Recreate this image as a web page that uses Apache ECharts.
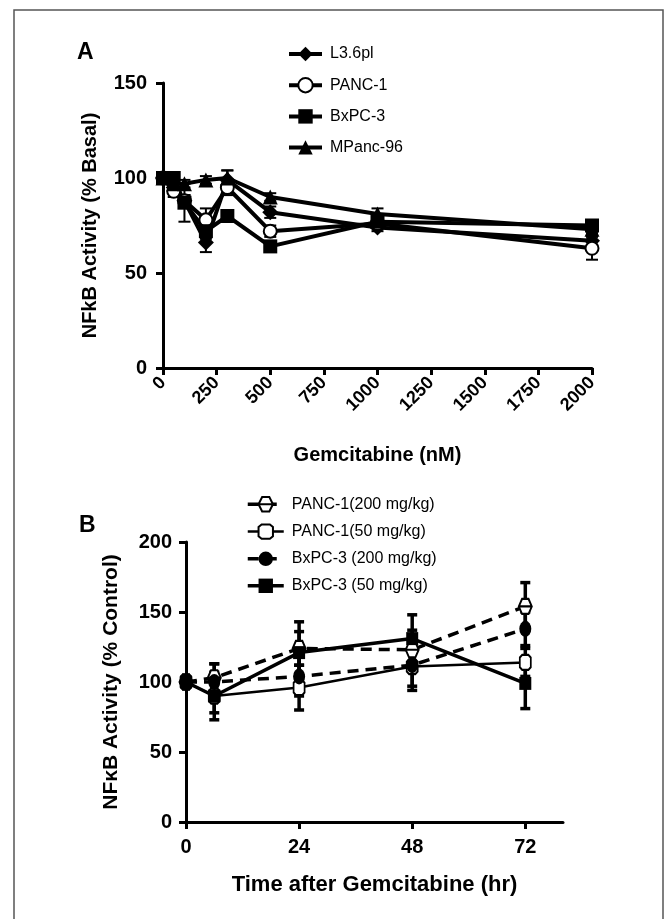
<!DOCTYPE html>
<html>
<head>
<meta charset="utf-8">
<script src="https://cdn.jsdelivr.net/npm/echarts@6/dist/echarts.min.js"></script>
<style>
  html, body { margin: 0; padding: 0; background: #fff; }
  #main { width: 668px; height: 919px; }
</style>
</head>
<body>
<div id="main"></div>
<script>
// panel A: dose response (% basal)
var doseNM = [0, 50, 100, 200, 300, 500, 1000, 2000];
var l36pl = [100, 95, 88, 66, 99, 82, 74, 67];
var l36plErr = [0, 2, 3, 5, 5, 3, 2, 3];
var panc1 = [100, 93, 88, 78, 95, 72, 76, 63];
var panc1Err = [0, 3, 3, 6, 4, 3, 2, 6];
var bxpc3 = [100, 100, 87, 72, 80, 64, 77, 75];
var bxpc3Err = [0, 3, 10, 4, 3, 2, 2, 2];
var mpanc96 = [100, 97, 97, 99, 100, 90, 81, 73];
var mpanc96Err = [0, 2, 2, 2, 4, 2, 3, 2];
var doseTicks = [0, 250, 500, 750, 1000, 1250, 1500, 1750, 2000];

// panel B: time course (% control)
var timeHr = [0, 6, 24, 48, 72];
var timeTicks = [0, 24, 48, 72];
var panc1_200 = [100, 103, 124, 123, 154];
var panc1_200Err = [0, 10, 12, 14, 17];
var panc1_50 = [100, 90, 96, 111, 114];
var panc1_50Err = [0, 12, 16, 14, 10];
var bxpc3_200 = [100, 100, 104, 112, 138];
var bxpc3_200Err = [0, 13, 14, 18, 12];
var bxpc3_50 = [100, 90, 121, 131, 99];
var bxpc3_50Err = [0, 17, 22, 17, 18];

var FONT = 'Liberation Sans, Arial, sans-serif';
var hexSym = 'path://M-2,0 L-1,-1.73 L1,-1.73 L2,0 L1,1.73 L-1,1.73 Z M-2,0 L2,0';
var octSym = 'path://M-0.8,-2 L0.8,-2 L1.4,-1.3 L1.4,1.3 L0.8,2 L-0.8,2 L-1.4,1.3 L-1.4,-1.3 Z';

function pairs(xs, ys) {
  return xs.map(function (x, i) { return [x, ys[i]]; });
}

// vertical error bars with caps, drawn through the axis scales
function errBars(name, xs, ys, es, axisIdx, cap, lw) {
  var data = [];
  xs.forEach(function (x, i) {
    if (es[i] > 0) data.push([x, ys[i] - es[i], ys[i] + es[i]]);
  });
  return {
    name: name, type: 'custom', xAxisIndex: axisIdx, yAxisIndex: axisIdx, z: 1,
    silent: true, data: data,
    renderItem: function (params, api) {
      var lo = api.coord([api.value(0), api.value(1)]);
      var hi = api.coord([api.value(0), api.value(2)]);
      var st = { stroke: '#000', lineWidth: lw };
      return {
        type: 'group',
        children: [
          { type: 'line', shape: { x1: lo[0], y1: lo[1], x2: hi[0], y2: hi[1] }, style: st },
          { type: 'line', shape: { x1: lo[0] - cap, y1: lo[1], x2: lo[0] + cap, y2: lo[1] }, style: st },
          { type: 'line', shape: { x1: hi[0] - cap, y1: hi[1], x2: hi[0] + cap, y2: hi[1] }, style: st }
        ]
      };
    }
  };
}

function lineA(name, ys, symbol, size) {
  return {
    name: name, type: 'line', xAxisIndex: 0, yAxisIndex: 0, z: 3,
    data: pairs(doseNM, ys),
    symbol: symbol, symbolSize: size, showSymbol: true,
    lineStyle: { color: '#000', width: 4 },
    itemStyle: { color: '#000', borderWidth: 1.5 }
  };
}

function lineB(name, ys, symbol, size, dashed, width, open) {
  return {
    name: name, type: 'line', xAxisIndex: 1, yAxisIndex: 1, z: 3,
    data: pairs(timeHr, ys),
    symbol: symbol, symbolSize: size, showSymbol: true,
    lineStyle: { color: '#000', width: width, type: dashed ? [11, 7] : 'solid' },
    itemStyle: open ? { color: '#fff', borderColor: '#000', borderWidth: 2 } : { color: '#000' }
  };
}

var axisLineStyle = { lineStyle: { color: '#000', width: 3 } };
var tickStyle = { length: 7, lineStyle: { color: '#000', width: 3 } };
var boldLabel = { color: '#000', fontFamily: FONT, fontWeight: 'bold', fontSize: 20 };

var chart = echarts.init(document.getElementById('main'));
chart.setOption({
  animation: false,
  backgroundColor: '#fff',
  textStyle: { fontFamily: FONT },
  graphic: [
    { type: 'rect', shape: { x: 14, y: 10, width: 649, height: 930 },
      style: { fill: 'none', stroke: '#555', lineWidth: 1.5 } },
    { type: 'text', left: 77, top: 41,
      style: { text: 'A', font: 'bold 23px ' + FONT, fill: '#000' } },
    { type: 'text', left: 79, top: 514,
      style: { text: 'B', font: 'bold 23px ' + FONT, fill: '#000' } }
  ],
  legend: [
    {
      orient: 'vertical', left: 282, top: 41, itemWidth: 33, itemHeight: 18, itemGap: 15,
      lineStyle: { width: 4 },
      textStyle: { color: '#000', fontSize: 16, fontFamily: FONT, padding: [0, 0, 0, 3] },
      data: ['L3.6pl', 'PANC-1', 'BxPC-3', 'MPanc-96']
    },
    {
      orient: 'vertical', left: 241, top: 491, itemWidth: 36, itemHeight: 18, itemGap: 11,
      lineStyle: { width: 'inherit' },
      textStyle: { color: '#000', fontSize: 16, fontFamily: FONT, padding: [0, 0, 0, 3] },
      data: ['PANC-1(200 mg/kg)', 'PANC-1(50 mg/kg)', 'BxPC-3 (200 mg/kg)', 'BxPC-3 (50 mg/kg)']
    }
  ],
  grid: [
    { left: 163, top: 83, width: 429, height: 285 },
    { left: 186, top: 542, width: 377, height: 280 }
  ],
  xAxis: [
    {
      gridIndex: 0, type: 'value', min: 0, max: 2000, interval: 250,
      axisLine: axisLineStyle, axisTick: tickStyle, splitLine: { show: false },
      axisLabel: {
        rotate: 45, margin: 12, fontSize: 18, color: '#000', fontFamily: FONT, fontWeight: 'bold',
        customValues: doseTicks,
        formatter: function (v) { return String(v); }
      },
      name: 'Gemcitabine (nM)', nameLocation: 'middle', nameGap: 77,
      nameTextStyle: boldLabel
    },
    {
      gridIndex: 1, type: 'value', min: 0, max: 80, interval: 24,
      axisLine: axisLineStyle,
      axisTick: Object.assign({ customValues: timeTicks }, tickStyle),
      splitLine: { show: false },
      axisLabel: Object.assign({ margin: 15, customValues: timeTicks }, boldLabel),
      name: 'Time after Gemcitabine (hr)', nameLocation: 'middle', nameGap: 52,
      nameTextStyle: Object.assign({}, boldLabel, { fontSize: 22 })
    }
  ],
  yAxis: [
    {
      gridIndex: 0, type: 'value', min: 0, max: 150, interval: 50,
      axisLine: axisLineStyle, axisTick: tickStyle, splitLine: { show: false },
      axisLabel: Object.assign({ margin: 16 }, boldLabel),
      name: 'NFkB Activity (% Basal)', nameLocation: 'middle', nameGap: 63,
      nameTextStyle: boldLabel
    },
    {
      gridIndex: 1, type: 'value', min: 0, max: 200, interval: 50,
      axisLine: axisLineStyle, axisTick: tickStyle, splitLine: { show: false },
      axisLabel: Object.assign({ margin: 14 }, boldLabel),
      name: 'NF\u03baB Activity (% Control)', nameLocation: 'middle', nameGap: 64,
      nameTextStyle: Object.assign({}, boldLabel, { fontSize: 21 })
    }
  ],
  series: [
    errBars('e1', doseNM, l36pl, l36plErr, 0, 6, 2),
    errBars('e2', doseNM, panc1, panc1Err, 0, 6, 2),
    errBars('e3', doseNM, bxpc3, bxpc3Err, 0, 6, 2),
    errBars('e4', doseNM, mpanc96, mpanc96Err, 0, 6, 2),
    lineA('L3.6pl', l36pl, 'diamond', 16),
    lineA('PANC-1', panc1, 'emptyCircle', 13),
    lineA('BxPC-3', bxpc3, 'rect', 14),
    lineA('MPanc-96', mpanc96, 'triangle', 15),
    errBars('f1', timeHr, panc1_200, panc1_200Err, 1, 5, 3.5),
    errBars('f2', timeHr, panc1_50, panc1_50Err, 1, 5, 3.5),
    errBars('f3', timeHr, bxpc3_200, bxpc3_200Err, 1, 5, 3.5),
    errBars('f4', timeHr, bxpc3_50, bxpc3_50Err, 1, 5, 3.5),
    lineB('PANC-1(200 mg/kg)', panc1_200, hexSym, [13, 15], true, 3.5, true),
    lineB('PANC-1(50 mg/kg)', panc1_50, octSym, [11, 15], false, 2.5, true),
    lineB('BxPC-3 (200 mg/kg)', bxpc3_200, 'circle', [12, 16], true, 3.5, false),
    lineB('BxPC-3 (50 mg/kg)', bxpc3_50, 'rect', [12, 13], false, 3.5, false)
  ]
});
</script>
</body>
</html>
